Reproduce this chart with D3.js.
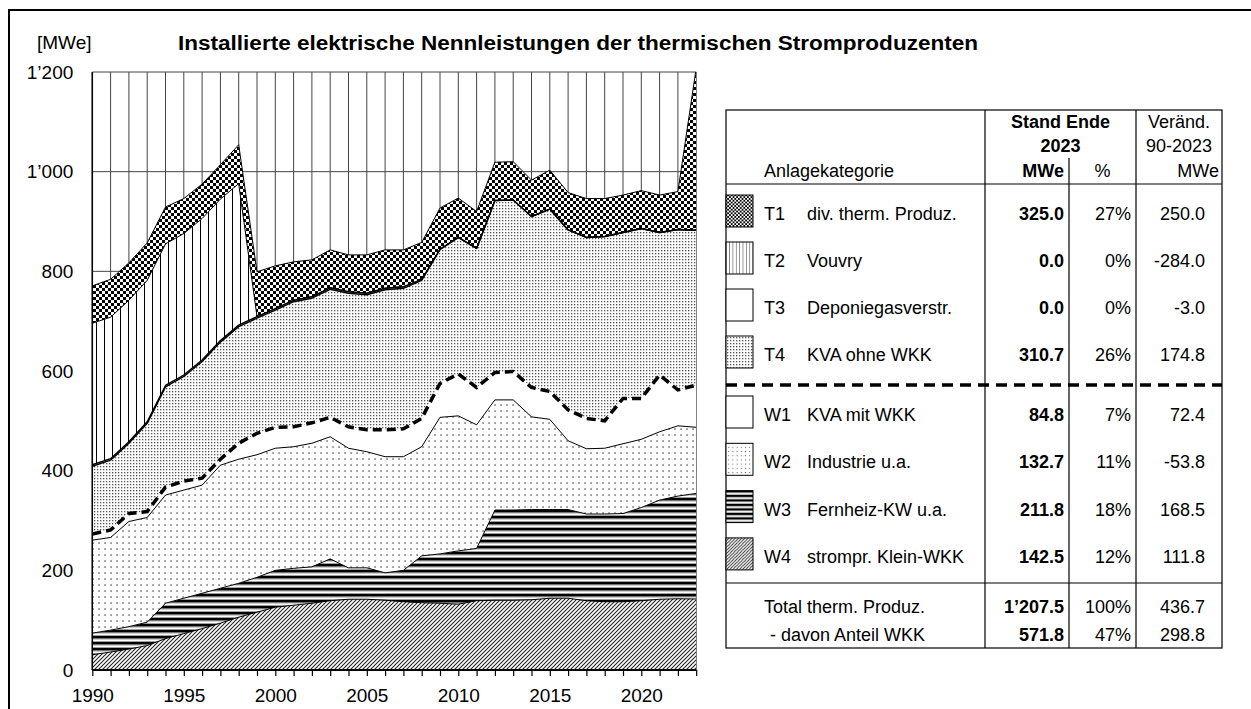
<!DOCTYPE html>
<html>
<head>
<meta charset="utf-8">
<script src="https://cdn.jsdelivr.net/npm/d3@7"></script>
<style>
  body { margin: 0; background: #fff; }
  svg { display: block; font-family: "Liberation Sans", Arial, sans-serif; }
</style>
</head>
<body>
<svg id="chart" width="1251" height="709"></svg>
<script>
// years on the x axis
const years = [1990,1991,1992,1993,1994,1995,1996,1997,1998,1999,2000,2001,2002,2003,2004,2005,2006,2007,
  2008,2009,2010,2011,2012,2013,2014,2015,2016,2017,2018,2019,2020,2021,2022,2023];

// installed capacity per category, MWe
const w4 = [30.7,36,42,49,63,73,83,94,106,116,126,130,134,139,142,142,140,137,135,134,132,139,140,140,141,144,144,139,137,137,139,142,143,142.5];
const w3 = [43.3,44,45,47,71,71,71,70,68,70,74,74,73,84,63,63,55,63,94,99,107,105,181,181,181,178,178,174,176,177,187,199,206,211.8];
const w2 = [186.5,186,211,210,217,217,217,247,249,246,245,244,248,245,240,233,233,228,219,274,271,248,221,221,186,181,138,131,132,140,137,137,141,132.7];
const w1 = [12.4,15,16,12,16,18,14,12,32,43,42,40,41,39,43,44,54,56,57,68,84,75,55,57,59,56,62,61,55,91,82,114,72,84.8];
const t4 = [135.9,140,141,177,201,210,234,235,234,231,235,251,250,257,268,271,281,282,277,269,274,279,345,344,343,366,361,363,370,333,341,286,322,310.7];
const t3 = [3,3,3,3,3,3,3,3,3,3,3,3,3,3,3,3,3,3,2,0,0,0,0,0,0,0,0,0,0,0,0,0,0,0];
const t2 = [284,284,284,284,284,284,284,284,284,0,0,0,0,0,0,0,0,0,0,0,0,0,0,0,0,0,0,0,0,0,0,0,0,0];
const t1 = [75,76,75,75,74,70,69,69,78,90,86,77,74,76,74,77,77,74,74,83,79,74,77,77,73,78,75,78,76,75,76,75,76,325];

const yTicks = [0,200,400,600,800,1000,1200];
const xLabels = [1990,1995,2000,2005,2010,2015,2020];

// legend table
const codes = ["T1","T2","T3","T4","W1","W2","W3","W4"];
const names = ["div. therm. Produz.","Vouvry","Deponiegasverstr.","KVA ohne WKK","KVA mit WKK","Industrie u.a.","Fernheiz-KW u.a.","strompr. Klein-WKK"];
const mwe2023 = [325.0,0.0,0.0,310.7,84.8,132.7,211.8,142.5];
const pct2023 = ["27%","0%","0%","26%","7%","11%","18%","12%"];
const change9023 = [250.0,-284.0,-3.0,174.8,72.4,-53.8,168.5,111.8];
const totalLabels = ["Total therm. Produz.","- davon Anteil WKK"];
const totalMwe = [1207.5,571.8];
const totalPct = ["100%","47%"];
const totalChange = [436.7,298.8];

const series = { W4: w4, W3: w3, W2: w2, W1: w1, T4: t4, T3: t3, T2: t2, T1: t1 };
const keys = ["W4","W3","W2","W1","T4","T3","T2","T1"];
const table = years.map((yr, i) => {
  const r = { year: yr };
  keys.forEach(k => r[k] = series[k][i]);
  return r;
});

const loc = d3.formatLocale({ decimal: ".", thousands: "\u2019", grouping: [3], currency: ["", ""], minus: "-" });
const fmtInt = loc.format(",.0f");
const fmt1 = loc.format(",.1f");

const svg = d3.select("#chart");
const font = "'Liberation Sans', Arial, sans-serif";

// patterns (chart size and a finer copy for the legend swatches)
const defs = svg.append("defs");
function pat(id, w, h, draw, legendScale) {
  [["p" + id, 1], ["l" + id, legendScale]].forEach(([pid, s]) => {
    const p = defs.append("pattern").attr("id", pid).attr("patternUnits", "userSpaceOnUse")
      .attr("width", w).attr("height", h);
    if (s !== 1) p.attr("patternTransform", `scale(${s})`);
    p.append("rect").attr("width", w).attr("height", h).attr("fill", "#fff");
    draw(p);
  });
}
pat("T1", 6, 6, p => {
  p.append("rect").attr("x", 0).attr("y", 0).attr("width", 3).attr("height", 3).attr("fill", "#000");
  p.append("rect").attr("x", 3).attr("y", 3).attr("width", 3).attr("height", 3).attr("fill", "#000");
}, 0.6);
pat("T2", 8, 8, p => {
  p.append("rect").attr("x", 0).attr("y", 0).attr("width", 1).attr("height", 8).attr("fill", "#000");
}, 0.42);
pat("T3", 4, 4, p => {}, 1);
pat("T4", 3, 3, p => {
  p.append("rect").attr("x", 1).attr("y", 1).attr("width", 1.3).attr("height", 1.3).attr("fill", "#555");
}, 1);
pat("W1", 4, 4, p => {}, 1);
pat("W2", 6, 6, p => {
  p.append("rect").attr("x", 2.3).attr("y", 2.3).attr("width", 1.5).attr("height", 1.5).attr("fill", "#666");
}, 0.7);
pat("W3", 6, 6, p => {
  p.append("rect").attr("x", 0).attr("y", 0).attr("width", 6).attr("height", 2.6).attr("fill", "#000");
  p.append("rect").attr("x", 0).attr("y", 2.6).attr("width", 6).attr("height", 0.8).attr("fill", "#888");
  p.append("rect").attr("x", 0).attr("y", 5.2).attr("width", 6).attr("height", 0.8).attr("fill", "#888");
}, 0.75);
pat("W4", 4, 4, p => {
  p.append("path").attr("d", "M0,4 L4,0 M-1,1 L1,-1 M3,5 L5,3")
    .attr("stroke", "#222").attr("stroke-width", 1.1);
}, 0.8);

// outer frame
svg.append("rect").attr("x", 9).attr("y", 10).attr("width", 1270).attr("height", 730)
  .attr("fill", "none").attr("stroke", "#000").attr("stroke-width", 2);

// scales
const x = d3.scaleLinear().domain([1990, 2023]).range([92.3, 696.2]);
const y = d3.scaleLinear().domain([0, 1200]).range([670, 72]);

defs.append("clipPath").attr("id", "plotClip").append("rect")
  .attr("x", x(1990)).attr("y", y(1200)).attr("width", x(2023) - x(1990)).attr("height", y(0) - y(1200));

// gridlines
const grid = svg.append("g").attr("stroke", "#444").attr("stroke-width", 1);
grid.selectAll("line.v").data(years).join("line").attr("class", "v")
  .attr("x1", d => x(d)).attr("x2", d => x(d)).attr("y1", y(0)).attr("y2", y(1200));
grid.selectAll("line.h").data(yTicks).join("line").attr("class", "h")
  .attr("x1", x(1990)).attr("x2", x(2023)).attr("y1", d => y(d)).attr("y2", d => y(d));

// stacked areas
const stacked = d3.stack().keys(keys)(table);
const area = d3.area().x(d => x(d.data.year)).y0(d => y(d[0])).y1(d => y(d[1]));
const topLine = d3.line().x(d => x(d.data.year)).y(d => y(d[1]));

const plot = svg.append("g").attr("clip-path", "url(#plotClip)");
plot.selectAll("path.area").data(stacked).join("path").attr("class", "area")
  .attr("d", area).attr("fill", d => `url(#p${d.key})`);

plot.selectAll("path.edge").data(stacked.filter(s => s.key !== "W1")).join("path").attr("class", "edge")
  .attr("d", topLine).attr("fill", "none").attr("stroke", "#000")
  .attr("stroke-width", d => (d.key === "T4" || d.key === "T3") ? 1.4 : 1)
  .attr("stroke-linejoin", "round");

plot.append("path").datum(stacked.find(s => s.key === "W1"))
  .attr("d", topLine).attr("fill", "none").attr("stroke", "#000")
  .attr("stroke-width", 3.5).attr("stroke-dasharray", "9,5");

// axes
svg.append("line").attr("x1", x(1990)).attr("x2", x(1990)).attr("y1", y(0)).attr("y2", y(1200))
  .attr("stroke", "#000").attr("stroke-width", 1.5);
const xAxis = d3.axisBottom(x).tickValues(years).tickSize(6)
  .tickFormat(d => xLabels.includes(d) ? d : "");
const gx = svg.append("g").attr("transform", `translate(0,${y(0)})`).call(xAxis);
gx.select(".domain").attr("stroke-width", 2).attr("d", `M${x(1990)},0H${x(2023)}`);
gx.selectAll(".tick line").attr("stroke-width", 1.2);
gx.selectAll(".tick text").attr("font-size", 19).attr("font-family", font).attr("fill", "#000").attr("dy", "1.2em");

const yAxis = d3.axisLeft(y).tickValues(yTicks).tickSize(0).tickPadding(19).tickFormat(d => fmtInt(d));
const gy = svg.append("g").attr("transform", `translate(${x(1990)},0)`).call(yAxis);
gy.select(".domain").remove();
gy.selectAll(".tick text").attr("font-size", 19).attr("font-family", font).attr("fill", "#000");

// titles
svg.append("text").attr("x", 37).attr("y", 49).attr("font-size", 19).text("[MWe]");
svg.append("text").attr("x", 178).attr("y", 50).attr("font-size", 20).attr("font-weight", "bold")
  .attr("textLength", 800).attr("lengthAdjust", "spacingAndGlyphs")
  .text("Installierte elektrische Nennleistungen der thermischen Stromproduzenten");

// legend table
const L = 726, R = 1222, C1 = 985, C2 = 1069, C3 = 1136, TOP = 110, BOT = 648;
const tg = svg.append("g").attr("font-size", 18).attr("fill", "#000");
tg.append("rect").attr("x", L).attr("y", TOP).attr("width", R - L).attr("height", BOT - TOP)
  .attr("fill", "none").attr("stroke", "#000").attr("stroke-width", 1.2);
[[C1, TOP], [C2, 158], [C3, TOP]].forEach(([cx, y0]) =>
  tg.append("line").attr("x1", cx).attr("x2", cx).attr("y1", y0).attr("y2", BOT).attr("stroke", "#000").attr("stroke-width", 1.2));
tg.append("line").attr("x1", L).attr("x2", R).attr("y1", 184).attr("y2", 184).attr("stroke", "#000").attr("stroke-width", 1.2);
tg.append("line").attr("x1", L).attr("x2", R).attr("y1", 583).attr("y2", 583).attr("stroke", "#000").attr("stroke-width", 1.2);
tg.append("line").attr("x1", L).attr("x2", R).attr("y1", 385).attr("y2", 385).attr("stroke", "#000")
  .attr("stroke-width", 3.5).attr("stroke-dasharray", "11,7");

tg.append("text").attr("x", (C1 + C3) / 2).attr("y", 128).attr("text-anchor", "middle").attr("font-weight", "bold").text("Stand Ende");
tg.append("text").attr("x", (C1 + C3) / 2).attr("y", 152).attr("text-anchor", "middle").attr("font-weight", "bold").text("2023");
tg.append("text").attr("x", (C3 + R) / 2).attr("y", 128).attr("text-anchor", "middle").text("Veränd.");
tg.append("text").attr("x", (C3 + R) / 2).attr("y", 152).attr("text-anchor", "middle").text("90-2023");
tg.append("text").attr("x", 764).attr("y", 177).text("Anlagekategorie");
tg.append("text").attr("x", C2 - 5).attr("y", 177).attr("text-anchor", "end").attr("font-weight", "bold").text("MWe");
tg.append("text").attr("x", (C2 + C3) / 2).attr("y", 177).attr("text-anchor", "middle").text("%");
tg.append("text").attr("x", R - 3).attr("y", 177).attr("text-anchor", "end").text("MWe");

const rowY = i => i < 4 ? 220 + i * 47 : 421 + (i - 4) * 47.3;
const rows = tg.selectAll("g.row").data(codes).join("g").attr("class", "row");
rows.append("rect").attr("x", L).attr("y", (d, i) => rowY(i) - 25).attr("width", 27).attr("height", 32)
  .attr("fill", d => `url(#l${d})`).attr("stroke", "#000").attr("stroke-width", 1);
rows.append("text").attr("x", 764).attr("y", (d, i) => rowY(i)).text(d => d);
rows.append("text").attr("x", 807).attr("y", (d, i) => rowY(i)).text((d, i) => names[i]);
rows.append("text").attr("x", C2 - 5).attr("y", (d, i) => rowY(i)).attr("text-anchor", "end")
  .attr("font-weight", "bold").text((d, i) => fmt1(mwe2023[i]));
rows.append("text").attr("x", C3 - 5).attr("y", (d, i) => rowY(i)).attr("text-anchor", "end").text((d, i) => pct2023[i]);
rows.append("text").attr("x", R - 17).attr("y", (d, i) => rowY(i)).attr("text-anchor", "end").text((d, i) => fmt1(change9023[i]));

totalLabels.forEach((lab, i) => {
  const ty = 613 + i * 28;
  tg.append("text").attr("x", i === 0 ? 764 : 770).attr("y", ty).text(lab);
  tg.append("text").attr("x", C2 - 5).attr("y", ty).attr("text-anchor", "end").attr("font-weight", "bold").text(fmt1(totalMwe[i]));
  tg.append("text").attr("x", C3 - 5).attr("y", ty).attr("text-anchor", "end").text(totalPct[i]);
  tg.append("text").attr("x", R - 17).attr("y", ty).attr("text-anchor", "end").text(fmt1(totalChange[i]));
});
</script>
</body>
</html>
